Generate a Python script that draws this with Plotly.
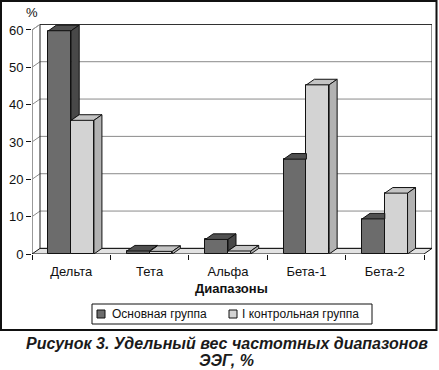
import plotly.graph_objects as go

# ---- data ----
categories = ["Дельта", "Тета", "Альфа", "Бета-1", "Бета-2"]
main_group = [59.8, 0.8, 3.9, 25.4, 9.4]
control_group = [35.8, 0.7, 0.8, 45.3, 16.3]
series_names = ["Основная группа", "I контрольная группа"]
y_ticks = [0, 10, 20, 30, 40, 50, 60]

# ---- styling / geometry ----
FONT = "Liberation Sans, Arial, sans-serif"
W = 0.29      # bar width (category units)
DX = 0.102    # 3D depth in x (category units)
DY = 1.5      # 3D depth in y (value units)
YMAX = y_ticks[-1]
n = len(categories)
XMIN, XMAX = -0.5, n - 0.5

DARK_FRONT, DARK_TOP, DARK_SIDE = "#6c6c6c", "#505050", "#484848"
LIGHT_FRONT, LIGHT_TOP, LIGHT_SIDE = "#d3d3d3", "#c4c4c4", "#b2b2b2"

# pixel -> paper helpers for the decorations outside the plot area
ML, MT, PW, PH = 32, 24, 400, 230
def px(x):
    return (x - ML) / PW
def py(y):
    return (MT + PH - y) / PH

centers = list(range(n))

fig = go.Figure()

# front faces (real bars)
fig.add_trace(go.Bar(x=centers, y=main_group, width=W, offset=-W, name=series_names[0],
                     marker=dict(color=DARK_FRONT, line=dict(color="#111", width=1)),
                     hoverinfo="skip", showlegend=False))
fig.add_trace(go.Bar(x=centers, y=control_group, width=W, offset=0, name=series_names[1],
                     marker=dict(color=LIGHT_FRONT, line=dict(color="#111", width=1)),
                     hoverinfo="skip", showlegend=False))

# 3D faces derived from the data
def add_poly(lst, pts):
    for p in pts:
        lst[0].append(p[0]); lst[1].append(p[1])
    lst[0].append(pts[0][0]); lst[1].append(pts[0][1])
    lst[0].append(None); lst[1].append(None)

dtop, dside, ltop, lside = ([], []), ([], []), ([], []), ([], [])
for c, dv, lv in zip(centers, main_group, control_group):
    l, r = c - W, c
    if dv > lv:
        add_poly(dtop, [(l, dv), (r, dv), (r + DX, dv + DY), (l + DX, dv + DY)])
        add_poly(dside, [(r, lv), (r + DX, lv + DY), (r + DX, dv + DY), (r, dv)])
    else:
        add_poly(dtop, [(l, dv), (r, dv), (r, dv + DY), (l + DX, dv + DY)])
    l, r = c, c + W
    add_poly(ltop, [(l, lv), (r, lv), (r + DX, lv + DY), (l + DX, lv + DY)])
    add_poly(lside, [(r, 0), (r + DX, DY), (r + DX, lv + DY), (r, lv)])

for pts, col in [(dtop, DARK_TOP), (dside, DARK_SIDE), (ltop, LIGHT_TOP), (lside, LIGHT_SIDE)]:
    fig.add_trace(go.Scatter(x=pts[0], y=pts[1], mode="lines", fill="toself",
                             fillcolor=col, line=dict(color="#111", width=1),
                             showlegend=False, hoverinfo="skip"))

# ---- back wall, side wall, gridlines, floor (below traces) ----
shapes = []
for v in y_ticks[1:]:
    shapes.append(dict(type="path", layer="below",
                       path=f"M{XMIN},{v} L{XMIN+DX},{v+DY} L{XMAX+DX},{v+DY}",
                       line=dict(color="#8a8a8a", width=1)))
shapes.append(dict(type="rect", layer="below", x0=XMIN + DX, x1=XMAX + DX, y0=DY, y1=YMAX + DY,
                   line=dict(color="#222", width=1)))
shapes.append(dict(type="line", layer="below", x0=XMIN, x1=XMIN, y0=0, y1=YMAX,
                   line=dict(color="#9a9a9a", width=2)))
shapes.append(dict(type="line", layer="below", x0=XMIN, x1=XMIN + DX, y0=YMAX, y1=YMAX + DY,
                   line=dict(color="#9a9a9a", width=1)))
shapes.append(dict(type="path", layer="below",
                   path=f"M{XMIN},0 L{XMAX},0 L{XMAX+DX},{DY} L{XMIN+DX},{DY} Z",
                   fillcolor="#e2e2e2", line=dict(color="#111", width=1)))
# outer frame
shapes.append(dict(type="rect", xref="paper", yref="paper", x0=px(1), x1=px(436.5),
                   y0=py(330), y1=py(1), line=dict(color="#111", width=2)))
# legend box and swatches
shapes.append(dict(type="rect", xref="paper", yref="paper", x0=px(92), x1=px(372),
                   y0=py(324), y1=py(304), line=dict(color="#111", width=1)))
legend_swatch_x = [97, 229]
legend_text_x = [110, 240]
for sx, col in zip(legend_swatch_x, [DARK_FRONT, LIGHT_FRONT]):
    shapes.append(dict(type="rect", xref="paper", yref="paper", x0=px(sx), x1=px(sx + 8),
                       y0=py(318), y1=py(310), fillcolor=col, line=dict(color="#111", width=1)))

annotations = [
    dict(text="%", xref="paper", yref="paper", x=px(32), y=py(12), xanchor="center",
         yanchor="middle", showarrow=False, font=dict(size=13, family=FONT, color="#111")),
    dict(text="<b>Диапазоны</b>", xref="paper", yref="paper", x=px(231), y=py(288),
         xanchor="center", yanchor="middle", showarrow=False,
         font=dict(size=13, family=FONT, color="#111")),
    dict(text="<b><i>Рисунок 3. Удельный вес частотных диапазонов</i></b>",
         xref="paper", yref="paper", x=px(226.5), y=py(343), xanchor="center", yanchor="middle",
         showarrow=False, font=dict(size=16, family=FONT, color="#1a1a1a")),
    dict(text="<b><i>ЭЭГ, %</i></b>",
         xref="paper", yref="paper", x=px(226.5), y=py(360), xanchor="center", yanchor="middle",
         showarrow=False, font=dict(size=16, family=FONT, color="#1a1a1a")),
]
for tx, name in zip(legend_text_x, series_names):
    annotations.append(dict(text=name, xref="paper", yref="paper", x=px(tx), y=py(314),
                            xanchor="left", yanchor="middle", showarrow=False,
                            font=dict(size=12, family=FONT, color="#111")))

fig.update_layout(
    width=439, height=370,
    margin=dict(l=ML, r=439 - ML - PW, t=MT, b=370 - MT - PH),
    paper_bgcolor="white", plot_bgcolor="white",
    font=dict(family=FONT, color="#111", size=12),
    barmode="overlay",
    bargap=0,
    shapes=shapes,
    showlegend=False,
    xaxis=dict(range=[XMIN, XMAX + DX], tickvals=centers, ticktext=categories,
               ticks="outside", ticklen=5, tickcolor="rgba(0,0,0,0)",
               showline=False, showgrid=False, zeroline=False,
               tickfont=dict(size=13, family=FONT, color="#111"),
               minor=dict(tickvals=[XMIN + i for i in range(n + 1)], ticks="outside",
                          ticklen=5, tickcolor="#111", tickwidth=1, showgrid=False)),
    yaxis=dict(range=[0, YMAX + DY + 0.1], tickvals=y_ticks, ticks="outside", ticklen=5,
               tickcolor="#111", showline=False, showgrid=False, zeroline=False,
               tickfont=dict(size=13, family=FONT, color="#111")),
    annotations=annotations,
)

fig.write_html("out.html", config={"displayModeBar": False},
               post_script="document.body.style.margin='0px';")
